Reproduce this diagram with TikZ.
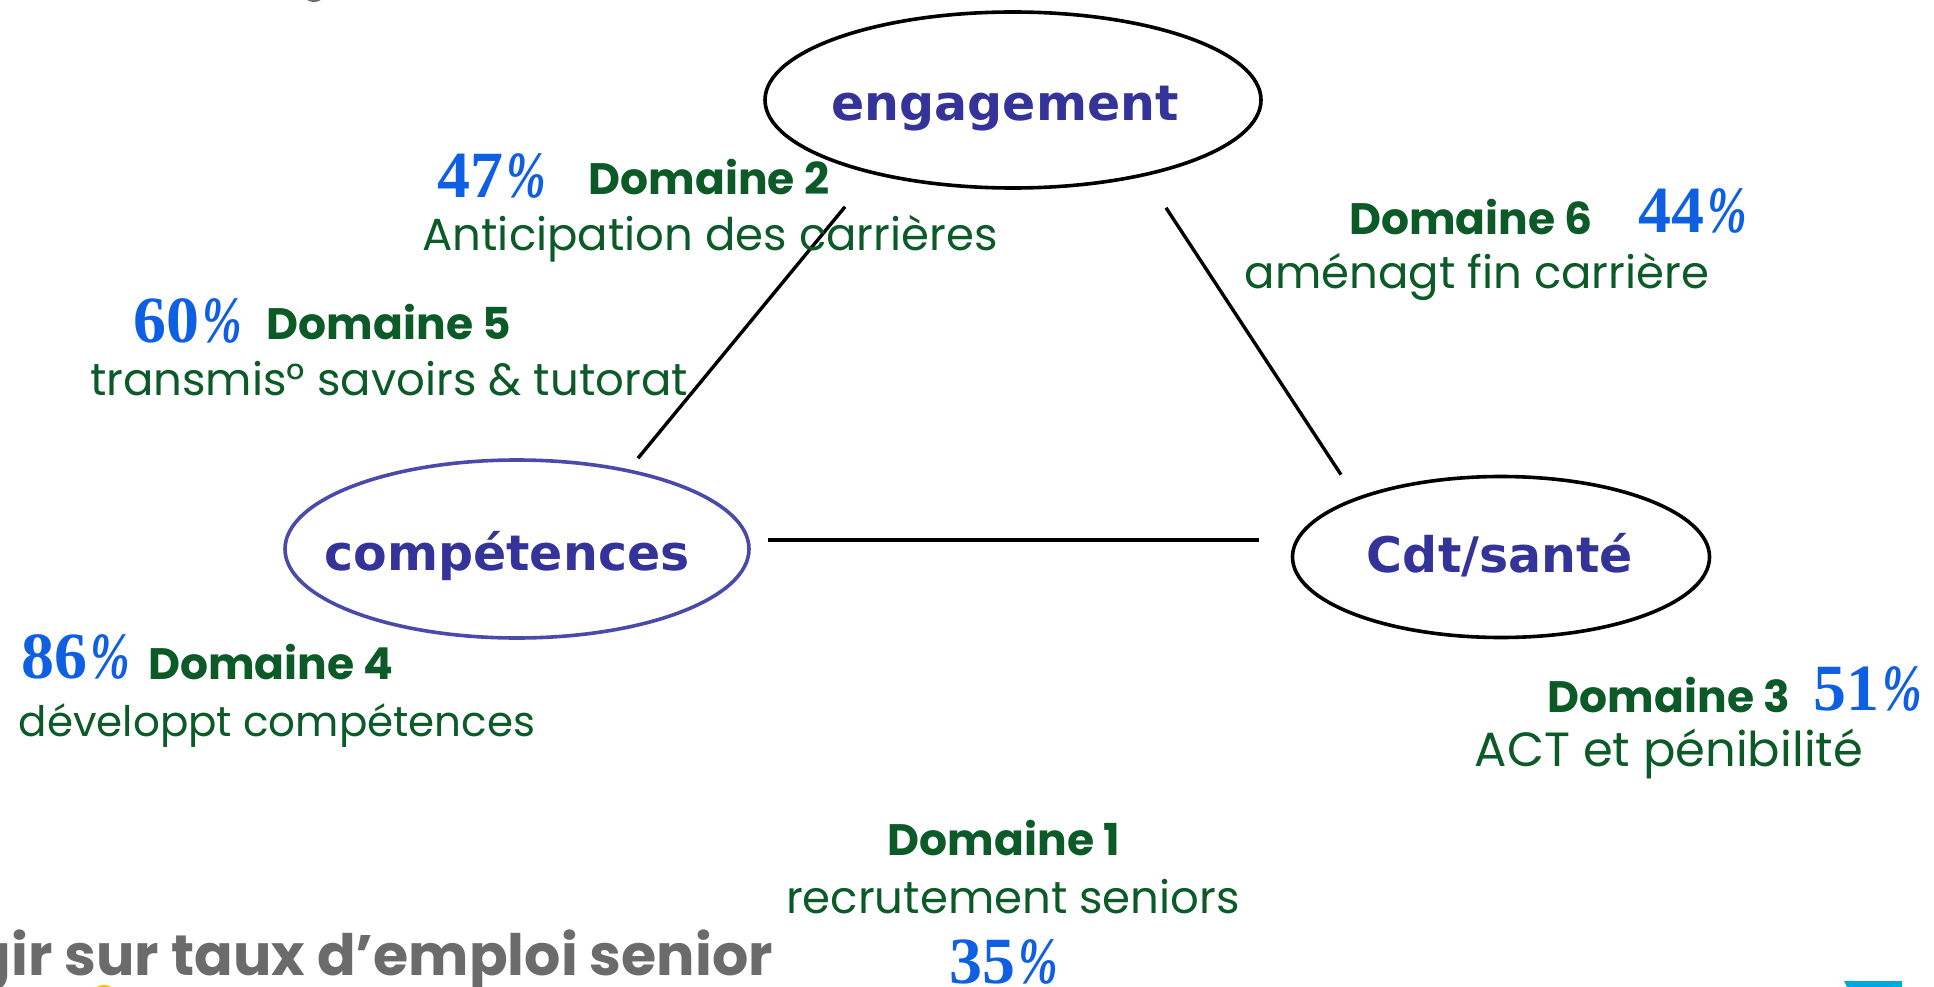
\documentclass[tikz,border=0pt]{standalone}
\usepackage{fontspec}
\usepackage{xcolor}
\usepackage{tikz}
\usetikzlibrary{shapes.geometric}

\newfontfamily\bubblefont{DejaVu Sans}
\newfontfamily\comicfont{Poppins}
\newfontfamily\pctfont{Liberation Serif}
\newfontfamily\pctsignfont[FakeStretch=0.72]{Liberation Serif}

\definecolor{BubbleBlue}{HTML}{333399}
\definecolor{RingBlue}{HTML}{4A4AAA}
\definecolor{DomGreen}{HTML}{0B5A28}
\definecolor{PctBlue}{HTML}{0F5FE3}
\definecolor{SlideGray}{HTML}{6B6B6B}
\definecolor{SlideCyan}{HTML}{00A8E0}
\definecolor{SlideYellow}{HTML}{F5C400}

% percentage with the narrow slanted sign
\newcommand{\pcval}[1]{#1\kern3pt{\pctsignfont\bfseries\itshape\%}}

\tikzset{
  bubble/.style={ellipse, draw=black, line width=3.6pt, inner sep=0pt},
  bubbletext/.style={anchor=base, inner sep=0pt, text=BubbleBlue, font=\bubblefont\bfseries\fontsize{49}{49}\selectfont},
  domtitle/.style={anchor=base, inner sep=0pt, text=DomGreen, font=\comicfont\bfseries\fontsize{44}{44}\selectfont},
  domtext/.style={anchor=base, inner sep=0pt, text=DomGreen, font=\comicfont\fontsize{45}{45}\selectfont},
  pct/.style={anchor=base, inner sep=0pt, text=PctBlue, font=\pctfont\bfseries\fontsize{66}{66}\selectfont},
  link/.style={black, line width=3.4pt},
}

\begin{document}
\begin{tikzpicture}[x=1pt, y=-1pt]

\useasboundingbox (0,0) rectangle (1934,987);
\clip (0,0) rectangle (1934,987);

% the three poles
\node at (1013,100) [bubble, minimum width=496pt, minimum height=176pt] (eng) {};
\node at (1005,121) [bubbletext] (engtext) {engagement};
\node at (517,549) [bubble, draw=RingBlue, minimum width=464pt, minimum height=178pt] (comp) {};
\node at (507,570) [bubbletext] (comptext) {compétences};
\node at (1501,557) [bubble, minimum width=417pt, minimum height=161pt] (sante) {};
\node at (1500,572) [bubbletext] (santetext) {Cdt/santé};

\draw[link] ([xshift=121pt]comp.north) -- ([xshift=-168pt, yshift=-17pt]eng.south);
\draw[link] ([xshift=153pt, yshift=-18pt]eng.south) -- ([xshift=-160pt]sante.north);
\draw[link] ([xshift=17pt, yshift=9pt]comp.east) -- ([xshift=-32pt, yshift=17pt]sante.west);

% domaines
\node at (492,197) [pct] (p47) {\pcval{47}};
\node at (709,195) [domtitle] (d2) {Domaine 2};
\node at (710,250) [domtext] (t2) {Anticipation des carrières};

\node at (188,342) [pct] (p60) {\pcval{60}};
\node at (389,339) [domtitle] (d5) {Domaine 5};
\node at (389,395) [domtext] (t5) {transmis° savoirs \& tutorat};

\node at (1471,234) [domtitle] (d6) {Domaine 6};
\node at (1693,232) [pct] (p44) {\pcval{44}};
\node at (1477,288) [domtext] (t6) {aménagt fin carrière};

\node at (76,678) [pct] (p86) {\pcval{86}};
\node at (271,679) [domtitle] (d4) {Domaine 4};
\node at (277,736) [domtext, font=\comicfont\fontsize{42}{42}\selectfont] (t4) {développt compétences};

\node at (1669,712) [domtitle] (d3) {Domaine 3};
\node at (1868,710) [pct] (p51) {\pcval{51}};
\node at (1669,766) [domtext, font=\comicfont\fontsize{48}{48}\selectfont] (t3) {ACT et pénibilité};

\node at (1004,855) [domtitle] (d1) {Domaine 1};
\node at (1013,913) [domtext] (t1) {recrutement seniors};
\node at (1004,983) [pct] (p35) {\pcval{35}};

% bits of the slide around
\node at (773,975) [anchor=base east, inner sep=0pt, text=SlideGray, font=\comicfont\bfseries\fontsize{57}{57}\selectfont] (agir) {gir sur taux d’emploi senior};
\fill[SlideGray] (314,-4) ellipse (9pt and 6pt);
\fill[SlideYellow] (104,1000) circle (15pt);
\fill[SlideCyan] (1844,981) -- (1902,981) -- (1902,987) -- (1847,987) -- cycle;

\end{tikzpicture}
\end{document}
